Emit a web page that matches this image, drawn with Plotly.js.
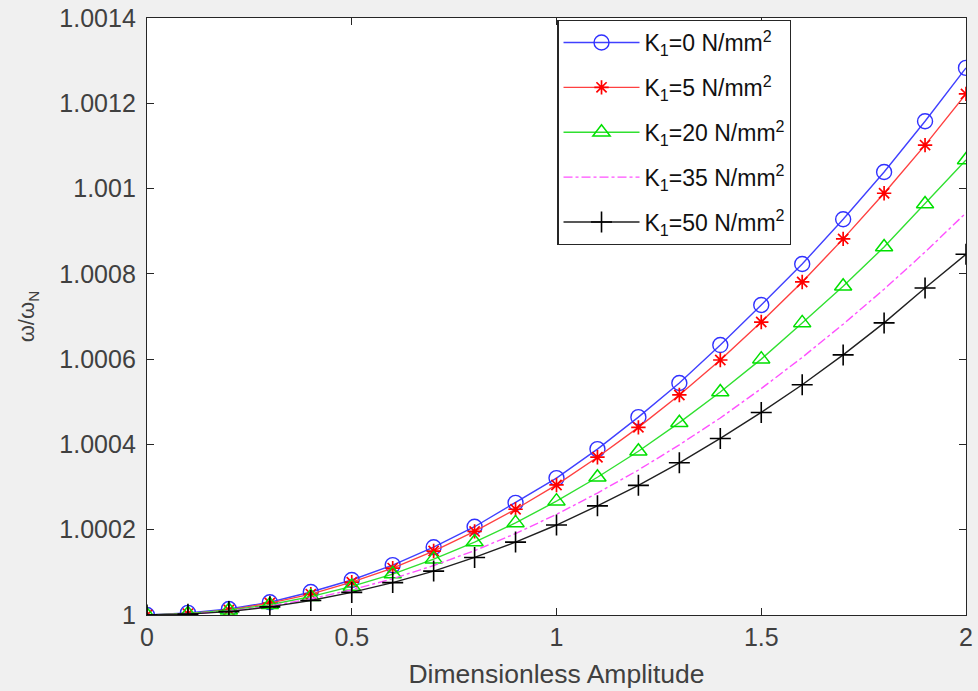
<!DOCTYPE html>
<html><head><meta charset="utf-8">
<script src="https://cdn.plot.ly/plotly-3.0.1.min.js"></script>
<style>html,body{margin:0;padding:0;background:#f0f0f0;}#chart{width:978px;height:691px;}</style>
</head><body><div id="chart"></div>
<script>
const amplitude = [0,0.1,0.2,0.3,0.4,0.5,0.6,0.7,0.8,0.9,1.0,1.1,1.2,1.3,1.4,1.5,1.6,1.7,1.8,1.9,2.0];
const k0  = [1,1.000005,1.000014,1.000030,1.000054,1.000082,1.000117,1.000159,1.000207,1.000263,1.000321,1.000389,1.000464,1.000544,1.000633,1.000727,1.000823,1.000928,1.001039,1.001158,1.001283];
const k5  = [1,1.000003,1.000012,1.000028,1.000049,1.000077,1.000110,1.000150,1.000196,1.000248,1.000305,1.000370,1.000440,1.000516,1.000598,1.000687,1.000781,1.000882,1.000989,1.001102,1.001222];
const k20 = [1,1.000003,1.000011,1.000024,1.000043,1.000067,1.000096,1.000131,1.000171,1.000216,1.000267,1.000323,1.000384,1.000451,1.000523,1.000600,1.000685,1.000771,1.000863,1.000964,1.001067];
const k35 = [1,1.000002,1.000009,1.000021,1.000038,1.000059,1.000085,1.000116,1.000151,1.000191,1.000236,1.000286,1.000340,1.000399,1.000462,1.000531,1.000604,1.000682,1.000764,1.000851,1.000943];
const k50 = [1,1.000002,1.000008,1.000019,1.000034,1.000053,1.000076,1.000103,1.000135,1.000171,1.000211,1.000256,1.000304,1.000357,1.000414,1.000475,1.000540,1.000610,1.000685,1.000767,1.000846];
const names = ['K<sub>1</sub>=0 N/mm<sup>2</sup>','K<sub>1</sub>=5 N/mm<sup>2</sup>','K<sub>1</sub>=20 N/mm<sup>2</sup>','K<sub>1</sub>=35 N/mm<sup>2</sup>','K<sub>1</sub>=50 N/mm<sup>2</sup>'];
const yTicks = [1,1.0002,1.0004,1.0006,1.0008,1.001,1.0012,1.0014];
const yTickText = ['1','1.0002','1.0004','1.0006','1.0008','1.001','1.0012','1.0014'];
const xTicks = [0,0.5,1,1.5,2];
const xTickText = ['0','0.5','1','1.5','2'];

const traces = [
  {x: amplitude, y: k0, name: names[0], legendgroup: 'a', mode: 'lines+markers',
   line: {color: '#4040ff', width: 1.4},
   marker: {symbol: 'circle-open', size: 15, color: '#3030ff', line: {width: 1.4}}},
  {x: amplitude, y: k5, name: names[1], legendgroup: 'b', mode: 'lines+markers',
   line: {color: '#ff4040', width: 1.4},
   marker: {symbol: 'asterisk-open', size: 12, color: '#ff0000', line: {width: 1.7}}},
  {x: amplitude, y: k20, name: names[2], legendgroup: 'c', mode: 'lines+markers',
   line: {color: '#30e030', width: 1.4},
   marker: {symbol: 'triangle-up-open', size: 15, color: '#00e000', line: {width: 1.5}}},
  {x: amplitude, y: k35, name: names[3], legendgroup: 'd', mode: 'lines',
   line: {color: '#ff50ff', width: 1.4, dash: 'dashdot'}},
  {x: amplitude, y: k50, name: names[4], legendgroup: 'e', mode: 'lines+markers',
   line: {color: '#202020', width: 1.4},
   marker: {symbol: 'cross-thin-open', size: 15, color: '#000000', line: {width: 1.6}}}
];

const fam = 'Liberation Sans, Arial, sans-serif';
const axisFont = {family: fam, size: 25, color: '#404040'};
const layout = {
  width: 978, height: 691,
  paper_bgcolor: '#f0f0f0', plot_bgcolor: '#ffffff',
  margin: {l: 147, r: 12, t: 18, b: 76},
  showlegend: true,
  xaxis: {
    range: [0, 2], tickvals: xTicks, ticktext: xTickText,
    ticks: 'inside', ticklen: 7, tickcolor: '#262626',
    showline: true, linecolor: '#262626', linewidth: 1.2, mirror: 'ticks',
    showgrid: false, zeroline: false, tickfont: axisFont,
    title: {text: 'Dimensionless Amplitude', font: {family: fam, size: 26.5, color: '#404040'}, standoff: 14}
  },
  yaxis: {
    range: [1, 1.0014], tickvals: yTicks, ticktext: yTickText,
    ticks: 'inside', ticklen: 7, tickcolor: '#262626', ticklabelstandoff: 5,
    showline: true, linecolor: '#262626', linewidth: 1.2, mirror: 'ticks',
    showgrid: false, zeroline: false, tickfont: axisFont,
    title: {text: 'ω/ω<sub>N</sub>', font: {family: fam, size: 22, color: '#404040'}, standoff: 18}
  },
  legend: {
    x: 0.501, y: 0.997, xanchor: 'left', yanchor: 'top',
    bgcolor: '#ffffff', bordercolor: '#262626', borderwidth: 1.2,
    font: {family: fam, size: 23, color: '#111111'},
    itemwidth: 76, tracegroupgap: 12
  }
};
Plotly.newPlot('chart', traces, layout, {displayModeBar: false, staticPlot: true});
</script></body></html>
